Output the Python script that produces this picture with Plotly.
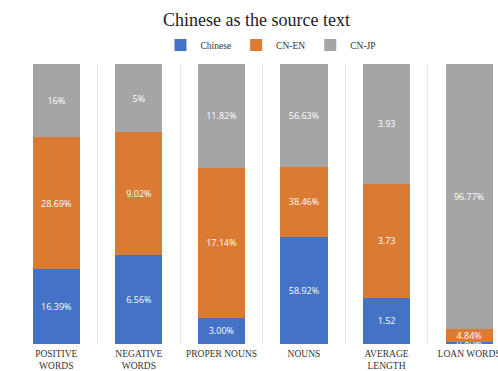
import plotly.graph_objects as go

categories = ["POSITIVE<br>WORDS", "NEGATIVE<br>WORDS", "PROPER NOUNS", "NOUNS", "AVERAGE<br>LENGTH", "LOAN WORDS"]
chinese = [16.39, 6.56, 3.00, 58.92, 1.52, 0.80]
cn_en = [28.69, 9.02, 17.14, 38.46, 3.73, 4.84]
cn_jp = [16, 5, 11.82, 56.63, 3.93, 96.77]
chinese_text = ["16.39%", "6.56%", "3.00%", "58.92%", "1.52", "0.80%"]
cn_en_text = ["28.69%", "9.02%", "17.14%", "38.46%", "3.73", "4.84%"]
cn_jp_text = ["16%", "5%", "11.82%", "56.63%", "3.93", "96.77%"]

colors = {"Chinese": "#4472C4", "CN-EN": "#DB7A33", "CN-JP": "#A5A5A5"}

fig = go.Figure()
for name, vals, txt in [("Chinese", chinese, chinese_text), ("CN-EN", cn_en, cn_en_text), ("CN-JP", cn_jp, cn_jp_text)]:
    fig.add_trace(go.Bar(
        x=categories, y=vals, name=name, text=txt,
        textposition="inside", insidetextanchor="middle", constraintext="none",
        textfont=dict(family="Open Sans, Calibri, sans-serif", size=9, color="white"),
        marker=dict(color=colors[name], line=dict(width=0)),
    ))

fig.update_layout(
    width=498, height=371,
    barmode="stack", barnorm="percent", bargap=0.43,
    paper_bgcolor="white", plot_bgcolor="white",
    margin=dict(l=15, r=0, t=64, b=27, autoexpand=False),
    title=dict(text="Chinese as the source text", x=0.515, xanchor="center",
               yref="container", y=0.946, yanchor="middle", automargin=False,
               font=dict(family="Liberation Serif, Times New Roman, serif", size=18, color="#222222")),
    legend=dict(orientation="h", x=0.53, xanchor="center", yref="container", y=0.879, yanchor="middle",
                font=dict(family="Liberation Serif, Times New Roman, serif", size=9.5, color="#333333"),
                itemwidth=30, traceorder="normal", bgcolor="rgba(0,0,0,0)"),
    showlegend=True,
    font=dict(family="Liberation Serif, serif"),
)
fig.update_xaxes(
    range=[-0.5, 5.35], tickson="boundaries", showgrid=True, gridcolor="#E6E6E6", gridwidth=1,
    ticks="", showline=False, tickangle=0, automargin=False, ticklabelstandoff=2,
    tickfont=dict(family="Liberation Serif, Times New Roman, serif", size=9.5, color="#333333"),
)
fig.update_yaxes(visible=False, range=[0, 100], showgrid=False, automargin=False)

fig.write_html("out.html", config={"displayModeBar": False},
               post_script="document.body.style.margin='0';document.body.style.overflow='hidden';")
